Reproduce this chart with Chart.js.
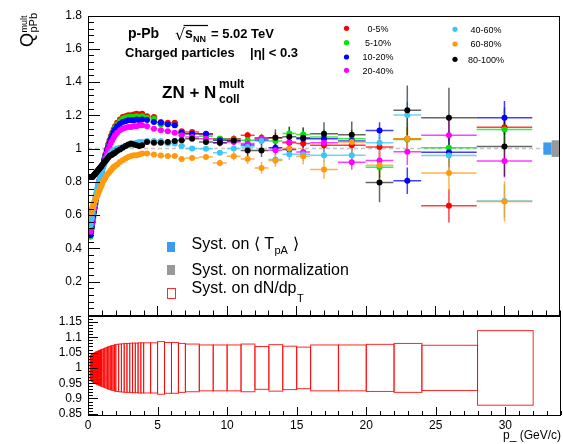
<!DOCTYPE html>
<html><head><meta charset="utf-8">
<script src="https://cdn.jsdelivr.net/npm/chart.js@4.4.0/dist/chart.umd.min.js"></script>
<style>
html,body{margin:0;padding:0;background:#fff;}
#wrap{position:relative;width:563px;height:444px;overflow:hidden;}
canvas{position:absolute;left:0;top:0;}
</style></head><body>
<div id="wrap"><canvas id="top" width="563" height="444"></canvas><canvas id="bot" width="563" height="444"></canvas></div>
<script>
// ---------------- data ----------------
const ptEdges = [0.15,0.2,0.25,0.3,0.35,0.4,0.45,0.5,0.55,0.6,0.65,0.7,0.75,0.8,0.85,0.9,0.95,1.0,
  1.1,1.2,1.3,1.4,1.5,1.6,1.7,1.8,1.9,2.0,
  2.2,2.4,2.6,2.8,3.0,3.2,3.4,3.6,3.8,4.0,
  4.5,5.0,5.5,6.0,6.5,7.0,
  8,9,10,11,12,13,14,15,16,
  18,20,22,24,28,32];
const centralities = ['0-5%','5-10%','10-20%','20-40%','40-60%','60-80%','80-100%'];

const q0_5 = [0.48,0.50,0.53,0.56,0.59,0.62,0.65,0.675,0.70,0.725,0.75,0.77,0.79,0.81,0.83,0.85,0.87,
  0.90,0.935,0.965,0.995,1.025,1.05,1.075,1.095,1.115,1.135,
  1.155,1.175,1.19,1.195,1.20,1.20,1.205,1.21,1.205,1.21,
  1.195,1.19,1.16,1.155,1.155,1.105,
  1.10,1.085,1.06,1.06,1.081,1.065,1.066,1.035,1.03,
  1.02,1.02,1.009,1.06,
  0.656,1.129];
const q5_10 = [0.47,0.49,0.52,0.55,0.58,0.61,0.64,0.665,0.69,0.715,0.74,0.76,0.78,0.80,0.82,0.84,0.86,
  0.89,0.925,0.955,0.985,1.015,1.04,1.065,1.085,1.105,1.125,
  1.145,1.165,1.18,1.185,1.19,1.19,1.19,1.195,1.19,1.195,
  1.185,1.18,1.145,1.145,1.14,1.095,
  1.09,1.075,1.059,1.055,1.05,1.06,1.045,1.091,1.085,
  1.07,1.06,0.888,1.055,
  1.005,1.115];
const q10_20 = [0.48,0.50,0.53,0.56,0.59,0.62,0.645,0.67,0.695,0.72,0.745,0.765,0.785,0.805,0.825,0.845,0.86,
  0.89,0.925,0.955,0.985,1.01,1.035,1.06,1.08,1.10,1.115,
  1.135,1.15,1.16,1.165,1.17,1.17,1.17,1.175,1.17,1.175,
  1.172,1.16,1.155,1.146,1.14,1.095,
  1.09,1.089,1.05,1.045,1.021,1.05,1.005,0.995,1.06,
  1.06,1.045,1.109,0.807,
  0.978,1.186];
const q20_40 = [0.50,0.52,0.55,0.58,0.61,0.635,0.66,0.685,0.71,0.73,0.75,0.77,0.79,0.81,0.825,0.84,0.855,
  0.885,0.915,0.945,0.97,0.995,1.015,1.035,1.05,1.065,1.08,
  1.095,1.11,1.12,1.125,1.13,1.13,1.135,1.135,1.14,1.14,
  1.135,1.12,1.11,1.105,1.095,1.08,
  1.07,1.059,1.035,1.04,1.03,1.059,0.99,1.04,0.98,
  1.035,0.918,0.928,0.981,
  1.081,0.926];
const q40_60 = [0.54,0.56,0.585,0.61,0.635,0.66,0.685,0.705,0.725,0.745,0.765,0.78,0.795,0.81,0.825,0.84,0.855,
  0.875,0.90,0.92,0.94,0.955,0.965,0.975,0.985,0.99,0.995,
  1.0,1.005,1.01,1.015,1.02,1.025,1.03,1.035,1.04,1.04,
  1.045,1.045,1.045,1.03,1.03,1.015,
  1.0,0.999,0.975,1.0,1.01,1.045,0.934,0.966,0.966,
  0.96,0.96,1.035,1.202,
  0.958,0.685];
const q60_80 = [0.61,0.62,0.635,0.65,0.66,0.67,0.68,0.69,0.70,0.71,0.72,0.73,0.74,0.75,0.76,0.77,0.78,
  0.795,0.81,0.825,0.84,0.85,0.86,0.87,0.88,0.89,0.895,
  0.905,0.92,0.93,0.94,0.95,0.955,0.96,0.96,0.965,0.97,
  0.97,0.965,0.958,0.955,0.955,0.938,
  0.944,0.95,0.914,0.954,0.938,0.884,0.929,1.0,0.954,
  0.874,1.039,0.90,1.059,
  0.854,0.682];
const q80_100 = [0.83,0.83,0.83,0.83,0.835,0.84,0.845,0.85,0.855,0.86,0.865,0.87,0.875,0.88,0.885,0.89,0.895,
  0.905,0.915,0.925,0.935,0.945,0.955,0.96,0.965,0.97,0.975,
  0.985,0.995,1.005,1.015,1.025,1.03,1.025,1.02,1.015,1.02,
  1.04,1.035,1.035,1.04,1.045,1.05,
  1.06,1.04,1.035,1.049,0.989,0.989,1.066,1.072,1.066,
  1.089,1.083,0.797,1.23,
  1.186,1.013];

// statistical errors of the last bins (7-8 GeV/c ... 28-32 GeV/c)
const err0_5   = [0.010,0.012,0.015,0.018,0.020,0.025,0.030,0.035,0.040,0.040,0.050,0.060,0.070,0.100,0.120];
const err5_10  = [0.010,0.012,0.015,0.020,0.022,0.027,0.032,0.040,0.045,0.045,0.055,0.065,0.075,0.100,0.120];
const err10_20 = [0.008,0.010,0.012,0.015,0.018,0.020,0.025,0.030,0.035,0.035,0.045,0.050,0.080,0.090,0.100];
const err20_40 = [0.008,0.010,0.012,0.015,0.018,0.020,0.025,0.030,0.035,0.035,0.045,0.050,0.080,0.090,0.100];
const err40_60 = [0.010,0.012,0.015,0.018,0.020,0.025,0.030,0.035,0.040,0.040,0.050,0.060,0.080,0.090,0.100];
const err60_80 = [0.012,0.015,0.020,0.025,0.030,0.035,0.040,0.045,0.050,0.055,0.065,0.080,0.100,0.110,0.120];
const err80_100= [0.015,0.018,0.022,0.028,0.035,0.040,0.050,0.060,0.060,0.070,0.080,0.120,0.150,0.180,0.180];

// relative systematic uncertainty on dN/dpT per bin (lower panel)
const systDNdpt = [0.040,0.042,0.044,0.045,0.047,0.048,0.049,0.051,0.052,0.053,0.054,0.055,0.056,0.057,0.058,0.059,0.060,
  0.061,0.063,0.065,0.067,0.069,0.070,0.072,0.073,0.074,0.076,
  0.077,0.078,0.079,0.080,0.080,0.081,0.081,0.081,0.082,0.082,
  0.082,0.082,0.086,0.083,0.083,0.080,
  0.078,0.075,0.075,0.075,0.078,0.070,0.076,0.071,0.068,
  0.075,0.075,0.077,0.080,
  0.074,0.122];
// normalisation uncertainties: <TpA>, normalization
const systTpA = 0.037;
const systNorm = 0.05;

// ---------------- styles ----------------
const seriesVals = [q0_5,q5_10,q10_20,q20_40,q40_60,q60_80,q80_100];
const seriesErrs = [err0_5,err5_10,err10_20,err20_40,err40_60,err60_80,err80_100];
const seriesColors = ['#ff0000','#00e600','#0000ff','#ff00ff','#3cc6f6','#ff9a10','#000000'];
const FONT = '"Liberation Sans", Arial, Helvetica, sans-serif';

function rgba(hex, a){
  const n = parseInt(hex.slice(1),16);
  return `rgba(${(n>>16)&255},${(n>>8)&255},${n&255},${a})`;
}
const binCenter = i => (ptEdges[i]+ptEdges[i+1])/2;

function drawTicksY(ctx, a, y, v0, step, n, every, lMaj, lMin){
  ctx.beginPath();
  for(let k=0;k<=n;k++){
    const v = v0 + k*step;
    const py = Math.round(y.getPixelForValue(v))+0.5;
    const l = (k%every===0)?lMaj:lMin;
    ctx.moveTo(a.left, py); ctx.lineTo(a.left+l, py);
  }
  ctx.stroke();
}
function drawTicksX(ctx, a, x, lMaj, lMin){
  ctx.beginPath();
  for(let k=0;k<=34;k++){
    const px = Math.round(x.getPixelForValue(k))+0.5;
    const l = (k%5===0)?lMaj:lMin;
    ctx.moveTo(px, a.bottom); ctx.lineTo(px, a.bottom-l);
  }
  ctx.stroke();
}
function frame(ctx, a){
  ctx.strokeStyle='#000'; ctx.lineWidth=1;
  ctx.strokeRect(Math.round(a.left)+0.5, Math.round(a.top)+0.5, Math.round(a.right-a.left)-1, Math.round(a.bottom-a.top));
}

const topPlugin = {
  id:'topDeco',
  beforeDatasetsDraw(chart){
    const {ctx, chartArea:a, scales:{x,y}} = chart;
    ctx.save();
    ctx.beginPath(); ctx.rect(a.left,a.top,a.right-a.left,a.bottom-a.top); ctx.clip();
    // reference line at 1
    ctx.strokeStyle='#c4c4c4'; ctx.lineWidth=1.5; ctx.setLineDash([4,3]);
    const y1 = y.getPixelForValue(1);
    ctx.beginPath(); ctx.moveTo(a.left,y1); ctx.lineTo(a.right,y1); ctx.stroke();
    ctx.setLineDash([]);
    // error bars
    seriesVals.forEach((vals,k)=>{
      const errs = seriesErrs[k];
      const off = vals.length - errs.length;
      ctx.strokeStyle = rgba(seriesColors[k], k===6?0.6:0.75);
      ctx.lineWidth = 1.5;
      ctx.beginPath();
      vals.forEach((v,i)=>{
        const py = y.getPixelForValue(v);
        const xl = x.getPixelForValue(ptEdges[i]), xh = x.getPixelForValue(ptEdges[i+1]);
        ctx.moveTo(xl,py); ctx.lineTo(xh,py);
        const e = i>=off ? errs[i-off] : 0;
        if(e>0){
          const xc = x.getPixelForValue(binCenter(i));
          ctx.moveTo(xc, y.getPixelForValue(v+e)); ctx.lineTo(xc, y.getPixelForValue(v-e));
        }
      });
      ctx.stroke();
    });
    // normalisation boxes
    ctx.fillStyle='#3c9bf0';
    let xa=x.getPixelForValue(32.8), xb=x.getPixelForValue(33.4);
    ctx.fillRect(xa, y.getPixelForValue(1+systTpA), xb-xa, y.getPixelForValue(1-systTpA)-y.getPixelForValue(1+systTpA));
    ctx.fillStyle='#999999';
    xa=x.getPixelForValue(33.4); xb=x.getPixelForValue(34);
    ctx.fillRect(xa, y.getPixelForValue(1+systNorm), xb-xa, y.getPixelForValue(1-systNorm)-y.getPixelForValue(1+systNorm));
    ctx.restore();
  },
  afterDraw(chart){
    const {ctx, chartArea:a, scales:{x,y}} = chart;
    ctx.save();
    frame(ctx,a);
    ctx.lineWidth=1;
    drawTicksY(ctx,a,y,0,0.04,45,5,12,6);
    drawTicksX(ctx,a,x,9,4.5);
    ctx.fillStyle='#000'; ctx.textBaseline='alphabetic'; ctx.textAlign='left';
    // header text
    ctx.font='bold 14px '+FONT;
    ctx.fillText('p-Pb',128,38);
    ctx.font='16px "DejaVu Sans", '+FONT;
    ctx.fillText('\u221A',175,40);
    ctx.font='bold 14px '+FONT;
    ctx.fillText('s',185,38);
    ctx.font='bold 9px '+FONT;
    ctx.fillText('NN',193,41.5);
    ctx.lineWidth=1.2; ctx.beginPath(); ctx.moveTo(183.5,25.5); ctx.lineTo(208,25.5); ctx.stroke();
    ctx.font='bold 13px '+FONT;
    ctx.fillText('= 5.02 TeV',211,38);
    ctx.fillText('Charged particles',125,56.5);
    ctx.fillText('|\u03B7| < 0.3',250,56.5);
    ctx.font='bold 17px '+FONT;
    ctx.fillText('ZN + N',162,98);
    ctx.font='bold 12px '+FONT;
    ctx.fillText('mult',219,88);
    ctx.fillText('coll',219,103);
    // centrality legend
    const lx=[346.5,346.5,346.5,346.5,455,455,455];
    const ly=[28.3,42.7,57,70.3,29.3,44,59.3];
    const tx=[378,378,378,378,486,486,486];
    ctx.font='9px '+FONT; ctx.textAlign='center';
    centralities.forEach((c,k)=>{
      ctx.fillStyle=seriesColors[k];
      ctx.beginPath(); ctx.arc(lx[k],ly[k],2.6,0,Math.PI*2); ctx.fill();
      ctx.fillStyle='#000';
      ctx.fillText(c,tx[k],ly[k]+3.3);
    });
    // syst legend
    ctx.textAlign='left';
    ctx.fillStyle='#3c9bf0'; ctx.fillRect(167,242,8,10);
    ctx.fillStyle='#999999'; ctx.fillRect(167,265,8,10);
    ctx.strokeStyle='#ff2a2a'; ctx.lineWidth=1; ctx.strokeRect(167.5,288.5,8,10);
    ctx.fillStyle='#000';
    ctx.font='16px '+FONT;
    let s1='Syst. on \u27E8 T';
    ctx.fillText(s1,191.5,249);
    let w1=ctx.measureText(s1).width;
    ctx.font='11px '+FONT;
    ctx.fillText('pA',191.5+w1+0.5,254);
    let w2=ctx.measureText('pA').width;
    ctx.font='16px '+FONT;
    ctx.fillText(' \u27E9',191.5+w1+w2+1,249);
    ctx.fillText('Syst. on normalization',191.5,275);
    let s3='Syst. on dN/dp';
    ctx.fillText(s3,191.5,293);
    let w3=ctx.measureText(s3).width;
    ctx.font='11px '+FONT;
    ctx.fillText('T',191.5+w3+0.5,302);
    // y title
    ctx.save();
    ctx.translate(33,47); ctx.rotate(-Math.PI/2);
    ctx.font='18px '+FONT;
    ctx.fillText('Q',0,0);
    ctx.font='9px '+FONT;
    ctx.fillText('mult',14.5,-6);
    ctx.font='11px '+FONT;
    ctx.fillText('pPb',14.5,3.5);
    ctx.restore();
    ctx.restore();
  }
};

const botPlugin = {
  id:'botDeco',
  afterDraw(chart){
    const {ctx, chartArea:a, scales:{x,y}} = chart;
    ctx.save();
    ctx.beginPath(); ctx.rect(a.left,a.top,a.right-a.left,a.bottom-a.top); ctx.clip();
    ctx.strokeStyle='rgba(255,0,0,0.85)'; ctx.lineWidth=1;
    systDNdpt.forEach((s,i)=>{
      const xl=x.getPixelForValue(ptEdges[i]), xh=x.getPixelForValue(ptEdges[i+1]);
      const yt=y.getPixelForValue(1+s), yb=y.getPixelForValue(1-s);
      ctx.strokeRect(xl,yt,xh-xl,yb-yt);
    });
    ctx.restore();
    ctx.save();
    frame(ctx,a);
    ctx.lineWidth=1; ctx.strokeStyle='#000';
    drawTicksY(ctx,a,y,0.85,0.01,32,5,10,5);
    drawTicksX(ctx,a,x,8,4);
    ctx.fillStyle='#000'; ctx.font='12px '+FONT; ctx.textAlign='right'; ctx.textBaseline='alphabetic';
    ctx.fillText('p_ (GeV/c)',561,439);
    ctx.restore();
  }
};

const tickFont = {family:FONT, size:12};

new Chart(document.getElementById('top'),{
  type:'scatter',
  data:{datasets: seriesVals.map((vals,k)=>({
    label: centralities[k],
    data: vals.map((v,i)=>({x:binCenter(i), y:v})),
    backgroundColor: seriesColors[k], borderColor: seriesColors[k],
    pointRadius: 3, pointBorderWidth: 0, pointHoverRadius: 3,
    order: 7-k
  }))},
  options:{
    responsive:false, animation:false, events:[],
    layout:{padding:{left:0,right:2,top:15.5,bottom:129}},
    plugins:{legend:{display:false}, tooltip:{enabled:false}},
    scales:{
      x:{type:'linear', min:0, max:34, display:false},
      y:{type:'linear', min:0, max:1.8,
         grid:{display:false, drawTicks:false}, border:{display:false},
         ticks:{stepSize:0.2, padding:6, color:'#000', font:tickFont, autoSkip:false,
                callback:v=> v<0.01 ? '' : String(+v.toFixed(2))},
         afterFit:s=>{s.width=88;}}
    }
  },
  plugins:[topPlugin]
});

new Chart(document.getElementById('bot'),{
  type:'scatter',
  data:{datasets:[]},
  options:{
    responsive:false, animation:false, events:[],
    layout:{padding:{left:0,right:2,top:315,bottom:0}},
    plugins:{legend:{display:false}, tooltip:{enabled:false}},
    scales:{
      x:{type:'linear', min:0, max:34,
         grid:{display:false, drawTicks:false}, border:{display:false},
         ticks:{stepSize:5, padding:3, color:'#000', font:tickFont, includeBounds:false, maxRotation:0, autoSkip:false,
                callback:v=>String(v)},
         afterFit:s=>{s.height=29;}},
      y:{type:'linear', min:0.846, max:1.173,
         grid:{display:false, drawTicks:false}, border:{display:false},
         ticks:{stepSize:0.05, padding:6, color:'#000', font:tickFont, includeBounds:false, autoSkip:false,
                callback:v=>String(+v.toFixed(2))},
         afterFit:s=>{s.width=88;}}
    }
  },
  plugins:[botPlugin]
});
</script>
</body></html>
